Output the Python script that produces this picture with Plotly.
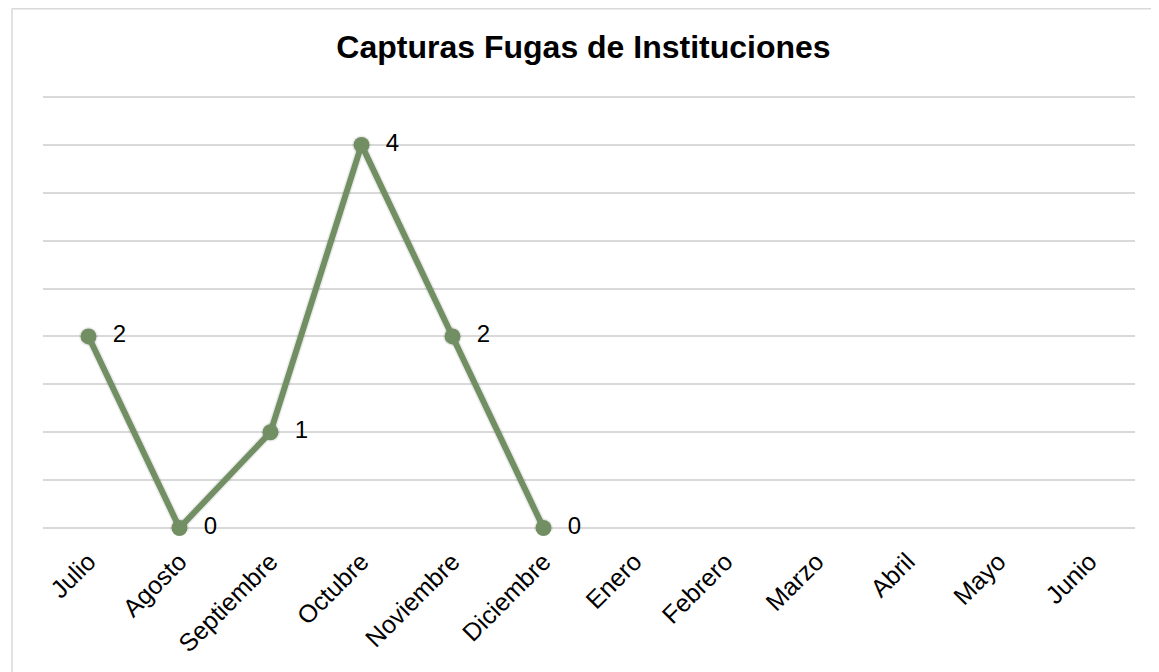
import plotly.graph_objects as go

months = ["Julio", "Agosto", "Septiembre", "Octubre", "Noviembre", "Diciembre",
          "Enero", "Febrero", "Marzo", "Abril", "Mayo", "Junio"]
captures = [2, 0, 1, 4, 2, 0, None, None, None, None, None, None]

line_color = "rgb(113,143,99)"
FONT = "Liberation Sans, Arial"

fig = go.Figure()
# soft shadow under the line
fig.add_trace(go.Scatter(
    x=months, y=captures, mode="lines+markers",
    line=dict(color="rgba(0,0,0,0.08)", width=9),
    marker=dict(color="rgba(0,0,0,0.08)", size=19),
    hoverinfo="skip", showlegend=False,
))
fig.add_trace(go.Scatter(
    x=months, y=captures,
    mode="lines+markers+text",
    texttemplate="\u00a0\u00a0%{y}",
    textposition="middle right",
    textfont=dict(family=FONT, size=24, color="black"),
    line=dict(color=line_color, width=6),
    marker=dict(color=line_color, size=16),
    cliponaxis=False,
    showlegend=False,
))

W, H = 1151, 664
pad = 3 / (431 / 4.5)
fig.update_layout(
    width=W, height=H,
    margin=dict(l=35, r=24, t=86, b=141),
    paper_bgcolor="white", plot_bgcolor="white",
    title=dict(text="<b>Capturas Fugas de Instituciones</b>",
               x=0.5, xanchor="center", y=1 - 39 / H, yanchor="middle",
               font=dict(family=FONT, size=32, color="black")),
    xaxis=dict(type="category", categoryorder="array", categoryarray=months,
               range=[-0.5, 11.5], tickangle=-45, showgrid=False, zeroline=False,
               showline=False, ticks="", ticklabelstandoff=10,
               tickfont=dict(family=FONT, size=25, color="black")),
    yaxis=dict(range=[-pad, 4.5 + pad], tick0=0, dtick=0.5, showticklabels=False,
               showgrid=True, gridcolor="#d9d9d9", gridwidth=1.5,
               zeroline=True, zerolinecolor="#d9d9d9", zerolinewidth=1.5,
               showline=False, ticks=""),
    font=dict(family=FONT),
)

# outer chart border (partially visible like the reference)
px_w, px_h = 1092, 437
bx = (4 - 35) / px_w
by = (664 - 141 - 0.75) / px_h
fig.add_shape(type="line", xref="paper", yref="paper",
              x0=bx, x1=1.2, y0=by, y1=by,
              line=dict(color="#d9d9d9", width=1.5))
fig.add_shape(type="line", xref="paper", yref="paper",
              x0=bx, x1=bx, y0=by, y1=-0.6,
              line=dict(color="#d9d9d9", width=1.5))

fig.write_html("out.html")
